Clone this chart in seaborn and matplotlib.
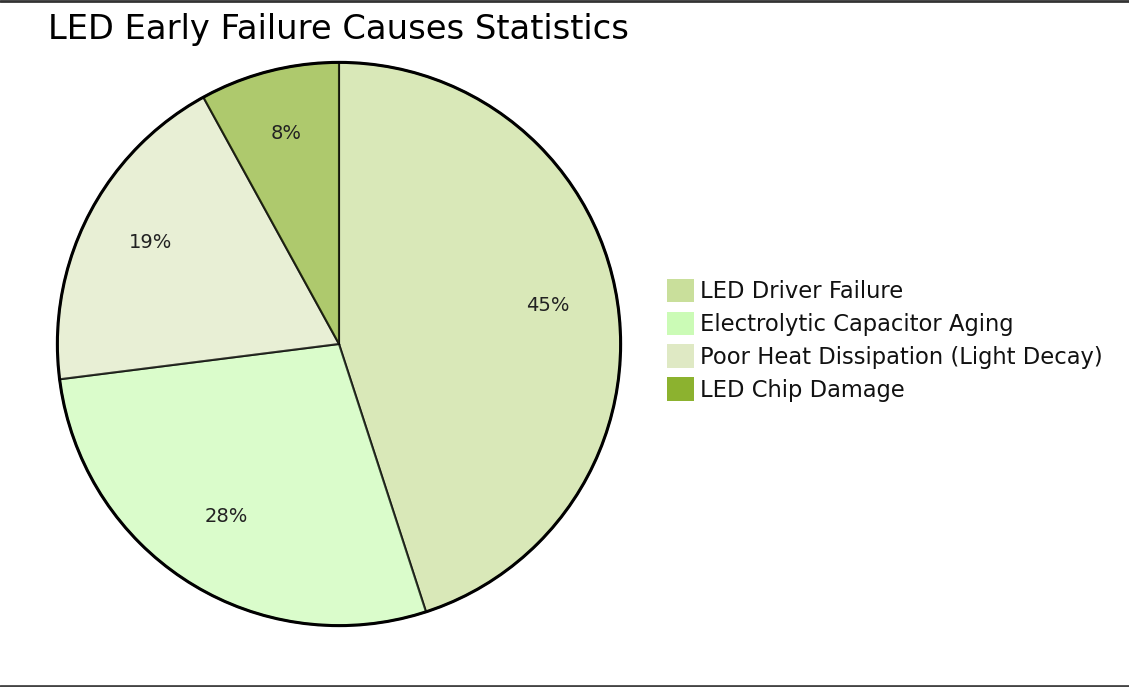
import matplotlib
matplotlib.use("Agg")
import matplotlib.pyplot as plt
import seaborn as sns
from matplotlib.patches import Patch, Circle
from matplotlib.lines import Line2D

# data
causes = ["LED Driver Failure", "Electrolytic Capacitor Aging",
          "Poor Heat Dissipation (Light Decay)", "LED Chip Damage"]
shares = [45, 28, 19, 8]
colors = ["#c9df9b", "#cbfbb6", "#dfe9c4", "#8cb22f"]

sns.set_theme(style="white")
plt.rcParams["font.family"] = ["DejaVu Sans"]

W, H = 1129, 687
fig = plt.figure(figsize=(W / 100, H / 100), dpi=100)

# pie area: centre (339, 344), radius 282 px
cx, cy, r = 339, 344, 285
ax = fig.add_axes([(cx - r) / W, (H - cy - r) / H, 2 * r / W, 2 * r / H])
wedges, texts, autotexts = ax.pie(
    shares, colors=colors, startangle=90, counterclock=False,
    autopct=lambda p: f"{p:.0f}%", pctdistance=0.75, radius=1,
    wedgeprops=dict(edgecolor="black", linewidth=1.5, alpha=0.7),
    textprops=dict(fontsize=14, color="#222222"),
)
for w in wedges:
    w.set_edgecolor((0, 0, 0, 1))
for t in autotexts:
    t.set_va("baseline")
ax.add_patch(Circle((0, 0), 1, fill=False, edgecolor="black", linewidth=2.2))
ax.set_xlim(-1.012, 1.012)
ax.set_ylim(-1.012, 1.012)
ax.set_aspect("equal")
ax.axis("off")

fig.text(48 / W, 1 - 29 / H, "LED Early Failure Causes Statistics",
         fontsize=24.3, va="center", ha="left", color="black")

handles = [Patch(facecolor=c, edgecolor="none") for c in colors]
fig.legend(handles, causes, loc="upper left",
           bbox_to_anchor=(662 / W, 1 - 274 / H), frameon=False,
           fontsize=16.3, handlelength=1.22, handleheight=1.22,
           handletextpad=0.28, labelspacing=0.38, borderaxespad=0,
           borderpad=0.2, labelcolor="#111111")

# thin frame lines at top and bottom edges, as in the reference
fig.add_artist(Line2D([0, 1], [1 - 1 / H, 1 - 1 / H], color="#333333", linewidth=2))
fig.add_artist(Line2D([0, 1], [1.5 / H, 1.5 / H], color="#444444", linewidth=2))

fig.savefig("out.png", dpi=100, facecolor="white")
